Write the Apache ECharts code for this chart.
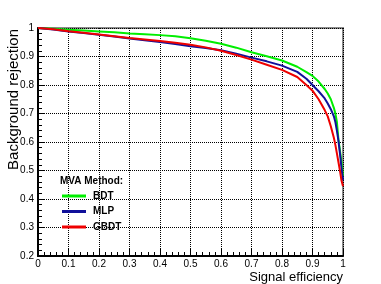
<!DOCTYPE html>
<html>
<head>
<meta charset="utf-8">
<script src="https://cdn.jsdelivr.net/npm/echarts@6/dist/echarts.min.js"></script>
<style>html,body{margin:0;padding:0;background:#fff;}#c{width:381px;height:284px;}</style>
</head>
<body>
<div id="c"></div>
<script>
var signalEff = [0, 0.05, 0.1, 0.15, 0.2, 0.25, 0.3, 0.35, 0.4, 0.45, 0.5, 0.55, 0.6, 0.65, 0.7, 0.75, 0.8, 0.85, 0.88, 0.9, 0.92, 0.94, 0.95, 0.96, 0.97, 0.975, 0.98, 0.985, 0.99, 0.995, 1.0];
var bdtRej  = [1.0, 0.997, 0.994, 0.991, 0.988, 0.985, 0.981, 0.978, 0.975, 0.971, 0.964, 0.955, 0.945, 0.931, 0.915, 0.901, 0.886, 0.864, 0.845, 0.832, 0.812, 0.786, 0.77, 0.75, 0.72, 0.70, 0.67, 0.61, 0.57, 0.53, 0.48];
var mlpRej  = [1.0, 0.995, 0.988, 0.982, 0.976, 0.970, 0.963, 0.957, 0.951, 0.944, 0.936, 0.930, 0.922, 0.910, 0.896, 0.883, 0.868, 0.846, 0.822, 0.800, 0.778, 0.753, 0.735, 0.715, 0.690, 0.670, 0.640, 0.605, 0.56, 0.51, 0.465];
var gbdtRej = [1.0, 0.996, 0.989, 0.983, 0.977, 0.971, 0.965, 0.960, 0.954, 0.948, 0.941, 0.932, 0.920, 0.905, 0.889, 0.871, 0.853, 0.828, 0.800, 0.780, 0.750, 0.712, 0.690, 0.655, 0.615, 0.590, 0.56, 0.53, 0.50, 0.465, 0.445];
var methodNames = ['BDT', 'MLP', 'GBDT'];
var methodColors = ['#00ee00', '#10109a', '#ee0000'];
var xTitle = 'Signal efficiency';
var yTitle = 'Background rejection';
var legendTitle = 'MVA Method:';

function pairs(ys) { return signalEff.map(function (x, i) { return [x, ys[i]]; }); }
var allRej = [bdtRej, mlpRej, gbdtRej];

var FONT = '"Liberation Sans", Arial, Helvetica, sans-serif';
var chart = echarts.init(document.getElementById('c'), null, {renderer: 'canvas'});
var axisCommon = {
  type: 'value',
  axisLine: {show: true, lineStyle: {color: '#000', width: 2}},
  axisTick: {show: true, inside: true, length: 7, lineStyle: {color: '#000', width: 1}},
  minorTick: {show: true, splitNumber: 5, length: 4, lineStyle: {color: '#000', width: 1}},
  splitLine: {show: true, lineStyle: {color: '#000', width: 1, type: [1, 1]}},
  axisLabel: {color: '#000', fontFamily: FONT, fontSize: 10}
};
chart.setOption({
  animation: false,
  backgroundColor: '#fff',
  grid: {left: 38, right: 38, top: 28, bottom: 28, show: true, borderColor: '#8a8a8a', borderWidth: 2, backgroundColor: 'transparent'},
  xAxis: Object.assign({}, axisCommon, {min: 0, max: 1, interval: 0.1,
    axisLabel: Object.assign({}, axisCommon.axisLabel, {margin: 3})}),
  yAxis: Object.assign({}, axisCommon, {min: 0.2, max: 1, interval: 0.1,
    axisLabel: Object.assign({}, axisCommon.axisLabel, {margin: 4})}),
  title: {text: legendTitle, left: 60, top: 176, padding: 0,
    textStyle: {fontFamily: FONT, fontSize: 10, fontWeight: 'bold', color: '#000'}},
  legend: {
    orient: 'vertical', left: 62, top: 190, padding: 0, itemGap: 3.5,
    itemWidth: 24, itemHeight: 3, icon: 'rect',
    textStyle: {fontFamily: FONT, fontSize: 10, fontWeight: 'bold', color: '#000', lineHeight: 12, padding: [0, 0, 0, 2]},
    data: methodNames
  },
  graphic: [
    {type: 'text', x: 343, y: 277, style: {text: xTitle, font: '13px ' + FONT, fill: '#000', textAlign: 'right', textVerticalAlign: 'middle'}},
    {type: 'text', x: 14, y: 29, rotation: Math.PI / 2, style: {text: yTitle, font: '15px ' + FONT, fill: '#000', textAlign: 'right', textVerticalAlign: 'middle'}}
  ],
  series: methodNames.map(function (n, k) {
    return {
      name: n, type: 'line', data: pairs(allRej[k]), showSymbol: false, symbol: 'none',
      lineStyle: {color: methodColors[k], width: 2}, itemStyle: {color: methodColors[k]},
      z: 2 + k, clip: true
    };
  })
});
</script>
</body>
</html>
